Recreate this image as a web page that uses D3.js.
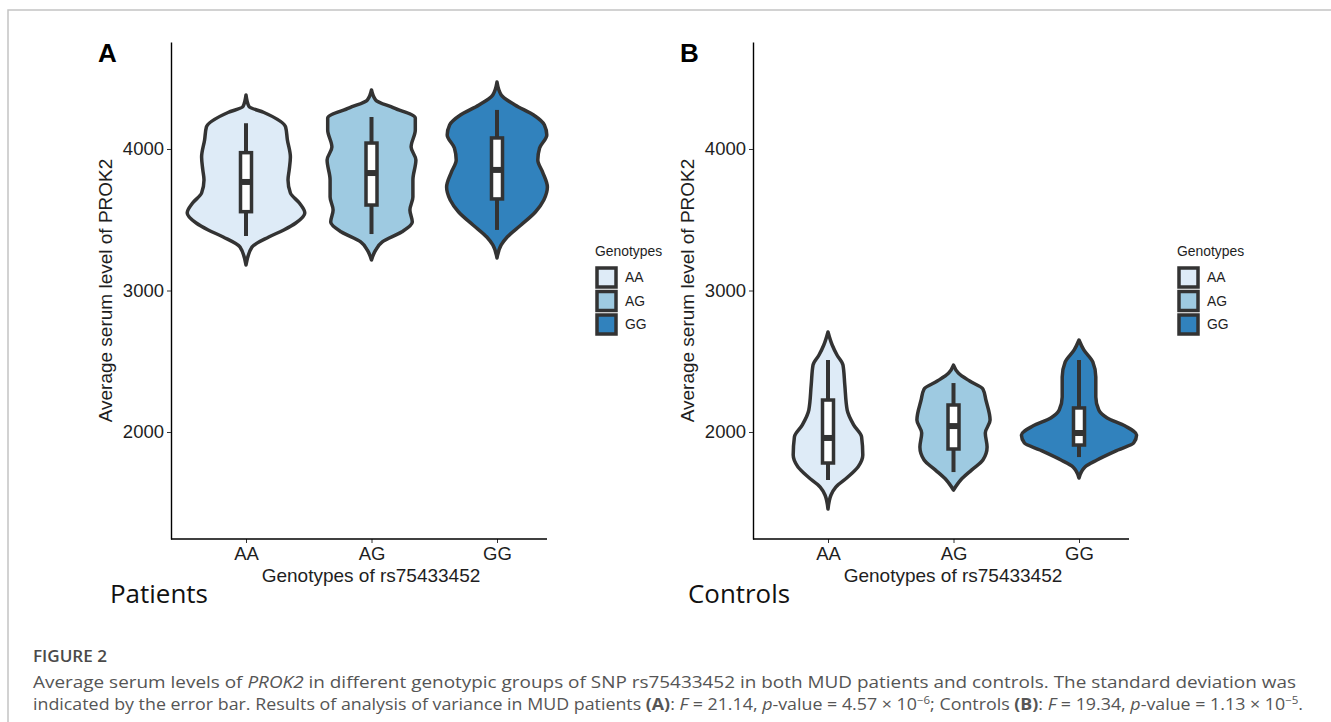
<!DOCTYPE html>
<html>
<head>
<meta charset="utf-8">
<script src="https://cdn.jsdelivr.net/npm/d3@7"></script>
<style>
body { margin: 0; background: #fff; }
svg { font-family: "Liberation Sans", Arial, sans-serif; }
</style>
</head>
<body>
<div id="chart"></div>
<script>
// ---- data ----
var genotypes = ["AA", "AG", "GG"];
var yTicks = [2000, 3000, 4000];
var yDomain = [1244, 4756];
var genotypeColors = ["#deebf7", "#9ecae1", "#3182bd"];

// violin outlines: [serum level, relative half width]
var patientsAA = [[4382,0],[4300,0.05],[4258,0.30],[4155,0.66],[4064,0.69],[3943,0.74],[3852,0.72],[3781,0.70],[3689,0.74],[3618,0.89],[3548,0.98],[3477,0.83],[3428,0.63],[3378,0.38],[3307,0.10],[3180,0]];
var patientsAG = [[4417,0],[4346,0.07],[4290,0.37],[4219,0.73],[4134,0.73],[4014,0.66],[3922,0.74],[3781,0.69],[3661,0.69],[3569,0.64],[3484,0.68],[3413,0.50],[3343,0.18],[3286,0.07],[3216,0]];
var patientsGG = [[4473,0],[4382,0.07],[4311,0.30],[4240,0.61],[4170,0.79],[4099,0.83],[4007,0.71],[3922,0.68],[3837,0.76],[3731,0.84],[3640,0.78],[3555,0.64],[3463,0.40],[3378,0.17],[3322,0.07],[3230,0]];
var controlsAA = [[2707,0],[2615,0.07],[2544,0.15],[2473,0.25],[2332,0.28],[2155,0.32],[2049,0.43],[1965,0.56],[1837,0.58],[1753,0.50],[1682,0.33],[1611,0.13],[1555,0.05],[1456,0]];
var controlsAG = [[2473,0],[2417,0.08],[2360,0.27],[2304,0.49],[2226,0.54],[2085,0.61],[1993,0.53],[1894,0.56],[1802,0.49],[1731,0.30],[1661,0.12],[1590,0]];
var controlsGG = [[2650,0],[2580,0.08],[2495,0.23],[2389,0.28],[2247,0.28],[2155,0.33],[2099,0.47],[2042,0.77],[1979,0.96],[1922,0.91],[1873,0.65],[1802,0.30],[1753,0.10],[1675,0]];

// box stats: [lower whisker, q1, median, q3, upper whisker]
var patientsBoxes = [[3385,3557,3767,3974,4182],[3399,3604,3830,4042,4226],[3428,3647,3852,4078,4276]];
var controlsBoxes = [[1661,1781,1958,2226,2509],[1717,1880,2042,2191,2346],[1823,1908,1993,2170,2509]];

var W = 1331, H = 722;
var outline = "#333333";
var labelFont = "'Open Sans', 'Noto Sans', sans-serif";

var svg = d3.select("#chart").append("svg")
    .attr("width", W).attr("height", H);

// frame of the figure box
svg.append("path").attr("d", "M8,722V10H1331")
    .attr("fill", "none").attr("stroke", "#c4c4c4").attr("stroke-width", 1.5);

function drawPanel(cfg) {
    var left = cfg.left, top = 42, bottom = 539, right = cfg.left + 376;
    var x = d3.scalePoint().domain(genotypes).range([left + 75, left + 326]);
    var y = d3.scaleLinear().domain(yDomain).range([bottom, top]);
    var w = d3.scaleLinear().domain([0, 1]).range([0, 60]);

    var g = svg.append("g");

    var area = d3.area()
        .curve(d3.curveMonotoneY)
        .y(function(d) { return y(d[0]); });

    cfg.violins.forEach(function(v, i) {
        var cx = x(genotypes[i]);
        area.x0(function(d) { return cx - w(d[1]); })
            .x1(function(d) { return cx + w(d[1]); });
        g.append("path")
            .attr("d", area(v))
            .attr("fill", genotypeColors[i])
            .attr("stroke", outline)
            .attr("stroke-width", 3.5)
            .attr("stroke-linejoin", "round");

        var b = cfg.boxes[i];
        var bw = 5.5;
        g.append("line")
            .attr("x1", cx).attr("x2", cx)
            .attr("y1", y(b[0])).attr("y2", y(b[4]))
            .attr("stroke", outline).attr("stroke-width", 4);
        g.append("rect")
            .attr("x", cx - bw).attr("width", bw * 2)
            .attr("y", y(b[3])).attr("height", y(b[1]) - y(b[3]))
            .attr("fill", "#fff").attr("stroke", outline).attr("stroke-width", 3.5);
        g.append("line")
            .attr("x1", cx - bw).attr("x2", cx + bw)
            .attr("y1", y(b[2])).attr("y2", y(b[2]))
            .attr("stroke", outline).attr("stroke-width", 6);
    });

    // y axis
    var ya = g.append("g").attr("transform", "translate(" + left + ",0)")
        .call(d3.axisLeft(y).tickValues(yTicks).tickSize(4).tickPadding(3).tickSizeOuter(0).tickFormat(d3.format("d")));
    ya.select(".domain").attr("stroke", "#000").attr("stroke-width", 1.4);
    ya.selectAll(".tick line").attr("stroke", "#333");
    ya.selectAll("text").attr("font-size", 18.5).attr("fill", "#1e1e1e")
        .style("font-family", "'Liberation Sans', Arial, sans-serif");

    // x axis
    var xa = g.append("g").attr("transform", "translate(0," + bottom + ")")
        .call(d3.axisBottom(x).tickSize(4).tickPadding(4));
    xa.select(".domain").remove();
    xa.append("line").attr("x1", left).attr("x2", right)
        .attr("stroke", "#000").attr("stroke-width", 1.4);
    xa.selectAll(".tick line").attr("stroke", "#333");
    xa.selectAll("text").attr("font-size", 18.5).attr("fill", "#1e1e1e")
        .style("font-family", "'Liberation Sans', Arial, sans-serif");

    // titles
    g.append("text")
        .attr("transform", "translate(" + (left - 59) + "," + ((top + bottom) / 2) + ") rotate(-90)")
        .attr("text-anchor", "middle").attr("font-size", 19).attr("fill", "#1e1e1e")
        .text("Average serum level of PROK2");
    g.append("text")
        .attr("x", left + 200).attr("y", 582)
        .attr("text-anchor", "middle").attr("font-size", 19).attr("fill", "#1e1e1e")
        .text("Genotypes of rs75433452");
    g.append("text")
        .attr("x", left - 73).attr("y", 62)
        .attr("font-size", 26).attr("font-weight", "bold").attr("fill", "#000")
        .text(cfg.tag);
    g.append("text")
        .attr("x", cfg.groupX).attr("y", 603)
        .style("font-family", labelFont)
        .attr("font-size", 25).attr("fill", "#111")
        .attr("textLength", cfg.groupWidth).attr("lengthAdjust", "spacingAndGlyphs")
        .text(cfg.group);

    // legend
    var lx = left + 424;
    var lg = g.append("g");
    lg.append("text").attr("x", lx).attr("y", 256)
        .attr("font-size", 13.9).attr("fill", "#1e1e1e").text("Genotypes");
    genotypes.forEach(function(gt, i) {
        var ky = 268 + i * 23.5;
        lg.append("rect").attr("x", lx + 2).attr("y", ky)
            .attr("width", 19).attr("height", 19)
            .attr("fill", genotypeColors[i]).attr("stroke", outline).attr("stroke-width", 3.5);
        lg.append("text").attr("x", lx + 30).attr("y", ky + 9.5)
            .attr("dy", "0.35em").attr("font-size", 13.9).attr("fill", "#1e1e1e").text(gt);
    });
}

drawPanel({ left: 171, tag: "A", group: "Patients", groupX: 110, groupWidth: 98,
    violins: [patientsAA, patientsAG, patientsGG], boxes: patientsBoxes });
drawPanel({ left: 753, tag: "B", group: "Controls", groupX: 688, groupWidth: 102,
    violins: [controlsAA, controlsAG, controlsGG], boxes: controlsBoxes });

// caption
var cap = svg.append("g").style("font-family", labelFont).attr("fill", "#555");
cap.append("text").attr("x", 33).attr("y", 662)
    .attr("font-size", 17).attr("font-weight", 600).attr("fill", "#4a4a4a")
    .attr("textLength", 74).attr("lengthAdjust", "spacingAndGlyphs")
    .text("FIGURE 2");

var l1 = cap.append("text").attr("x", 33).attr("y", 688).attr("font-size", 15.5)
    .attr("textLength", 1263).attr("lengthAdjust", "spacingAndGlyphs");
l1.append("tspan").text("Average serum levels of ");
l1.append("tspan").attr("font-style", "italic").text("PROK2");
l1.append("tspan").text(" in different genotypic groups of SNP rs75433452 in both MUD patients and controls. The standard deviation was");

var l2 = cap.append("text").attr("x", 33).attr("y", 710).attr("font-size", 15.5)
    .attr("textLength", 1270).attr("lengthAdjust", "spacingAndGlyphs");
l2.append("tspan").text("indicated by the error bar. Results of analysis of variance in MUD patients ");
l2.append("tspan").attr("font-weight", "bold").text("(A)");
l2.append("tspan").text(": ");
l2.append("tspan").attr("font-style", "italic").text("F");
l2.append("tspan").text(" = 21.14, ");
l2.append("tspan").attr("font-style", "italic").text("p");
l2.append("tspan").text("-value = 4.57 × 10");
l2.append("tspan").attr("font-size", 10).attr("dy", -6).text("−6");
l2.append("tspan").attr("dy", 6).text("; Controls ");
l2.append("tspan").attr("font-weight", "bold").text("(B)");
l2.append("tspan").text(": ");
l2.append("tspan").attr("font-style", "italic").text("F");
l2.append("tspan").text(" = 19.34, ");
l2.append("tspan").attr("font-style", "italic").text("p");
l2.append("tspan").text("-value = 1.13 × 10");
l2.append("tspan").attr("font-size", 10).attr("dy", -6).text("−5");
l2.append("tspan").attr("dy", 6).text(".");
</script>
</body>
</html>
